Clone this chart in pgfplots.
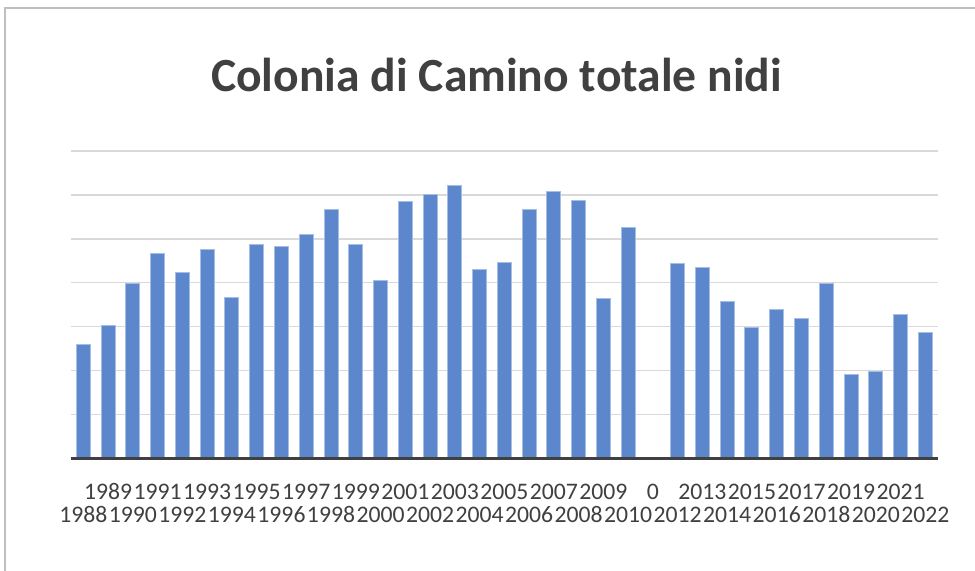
\documentclass[border=0pt]{standalone}
\usepackage{pgfplots}
\pgfplotsset{compat=1.18}
\usepackage{fontspec}
\setmainfont{Carlito}
\definecolor{barfill}{RGB}{92,135,205}
\definecolor{bardraw}{RGB}{165,190,230}
\definecolor{gridc}{RGB}{217,217,217}
\definecolor{titlec}{RGB}{64,64,64}
\definecolor{tickc}{RGB}{64,64,64}
\definecolor{framec}{RGB}{191,191,191}
\begin{document}
\begin{tikzpicture}
\useasboundingbox (0,0) rectangle (975bp,571bp);
\fill[white] (0,0) rectangle (975bp,571bp);
\draw[framec, line width=2bp] (5bp,0) -- (5bp,563bp) -- (975bp,563bp);
\node[anchor=base, text=titlec, font=\fontsize{47.6bp}{50bp}\selectfont\bfseries] at (496.5bp,479bp) {Colonia di Camino totale nidi};
\begin{axis}[
  at={(71bp,112.7bp)}, anchor=south west,
  scale only axis, width=866.7bp, height=307.3bp,
  xmin=-0.5, xmax=34.5, ymin=0, ymax=350,
  ybar, bar width=14bp,
  axis line style={draw=none},
  ytick={0,50,100,...,350}, yticklabels={},
  ymajorgrids, major grid style={gridc, line width=1.5bp},
  xtick={0,2,...,34},
  xticklabels={1988,1990,1992,1994,1996,1998,2000,2002,2004,2006,2008,2010,2012,2014,2016,2018,2020,2022},
  extra x ticks={1,3,...,33},
  extra x tick labels={1989,1991,1993,1995,1997,1999,2001,2003,2005,2007,2009,0,2013,2015,2017,2019,2021},
  major tick length=0pt, tick style={draw=none},
  xticklabel style={anchor=base, yshift=-63.7bp, text=tickc, font=\fontsize{23.7bp}{26bp}\selectfont},
  extra x tick style={xticklabel style={yshift=22.7bp}, major tick length=0pt, tick style={draw=none}},
  clip=false,
]
\addplot[fill=barfill, draw=bardraw, line width=1bp] coordinates {
(0,130) (1,151) (2,199) (3,233) (4,212) (5,238) (6,183) (7,244) (8,241) (9,255)
(10,283) (11,243) (12,202) (13,293) (14,300) (15,311) (16,215) (17,223) (18,283) (19,304)
(20,294) (21,182) (22,263) (24,222) (25,217) (26,179) (27,149) (28,169) (29,159)
(30,199) (31,95) (32,99) (33,164) (34,143)
};
\draw[titlec, line width=3bp] (axis cs:-0.5,0) -- (axis cs:34.5,0);
\end{axis}
\end{tikzpicture}
\end{document}
